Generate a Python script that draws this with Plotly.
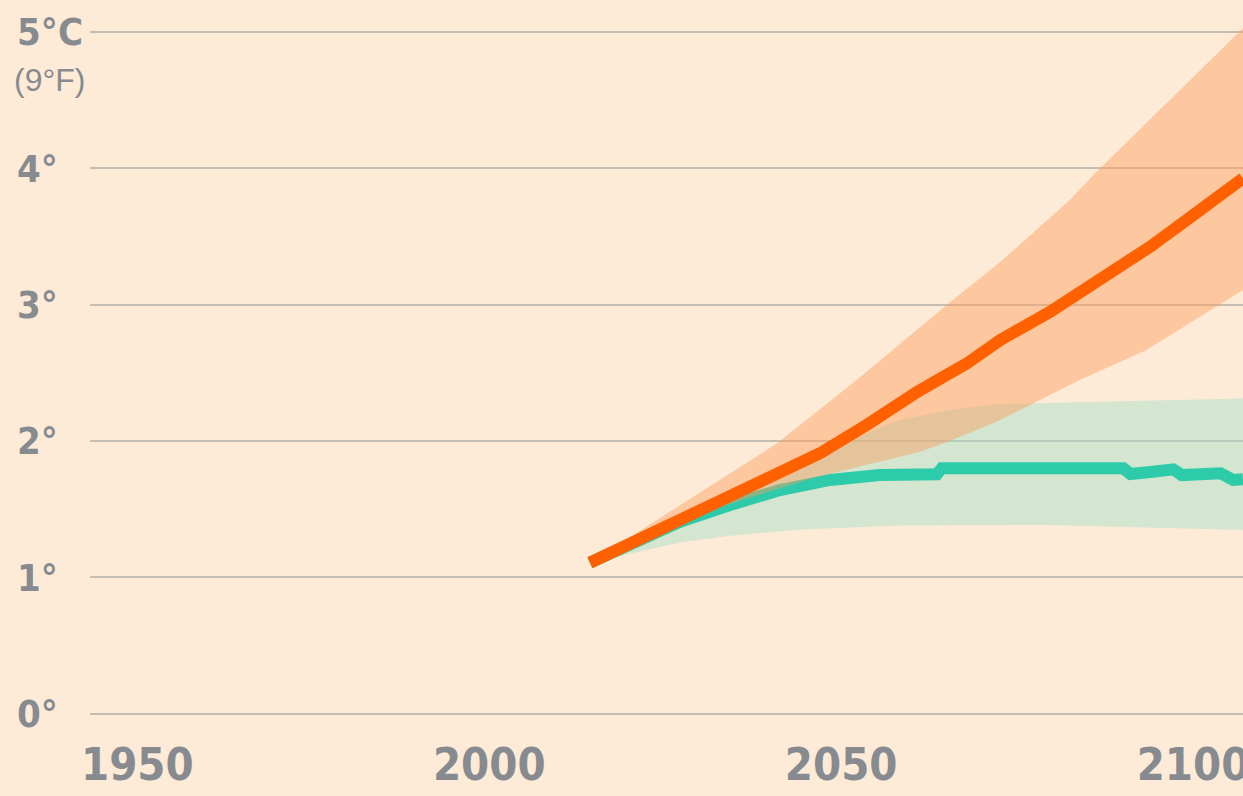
import plotly.graph_objects as go

# ---- data ----
x_ticks = [1950, 2000, 2050, 2100]
x_tick_labels = ["1950", "2000", "2050", "2100"]
y_ticks = [0, 1, 2, 3, 4, 5]
y_tick_labels = ["0°", "1°", "2°", "3°", "4°", "5°C"]
f_note = "(9°F)"

# high-emissions path (orange)
high_years = [2014.3, 2020.0, 2027.1, 2034.2, 2041.3, 2047.0, 2053.6, 2060.8,
              2067.9, 2072.6, 2079.7, 2086.8, 2093.9, 2101.0, 2107.1]
high_temp = [1.107, 1.249, 1.420, 1.591, 1.763, 1.910, 2.117, 2.360,
             2.570, 2.741, 2.948, 3.180, 3.425, 3.694, 3.927]
high_up_years = [2014.3, 2027.1, 2032.8, 2040.9, 2052.2, 2065.0, 2072.6, 2082.5, 2086.3, 2107.1]
high_up = [1.107, 1.530, 1.714, 1.983, 2.447, 2.997, 3.313, 3.768, 3.976, 5.028]
high_lo_years = [2014.3, 2033.2, 2046.0, 2061.2, 2065.0, 2072.6, 2083.9, 2093.4, 2107.1]
high_lo = [1.107, 1.523, 1.729, 1.921, 1.990, 2.154, 2.447, 2.667, 3.108]

# low-emissions path (green)
low_years = [2014.3, 2021.4, 2027.1, 2034.2, 2041.3, 2048.4, 2055.5, 2063.6, 2064.3,
             2090.1, 2091.1, 2094.3, 2097.2, 2098.4, 2103.9, 2105.7, 2107.1]
low_temp = [1.107, 1.274, 1.408, 1.530, 1.640, 1.714, 1.751, 1.756, 1.800,
            1.800, 1.758, 1.775, 1.792, 1.750, 1.763, 1.714, 1.719]
low_up_years = [2014.3, 2030.0, 2041.3, 2051.2, 2058.3, 2065.4, 2072.6, 2086.8, 2107.1]
low_up = [1.107, 1.479, 1.729, 2.007, 2.154, 2.227, 2.271, 2.286, 2.312]
low_lo_years = [2014.3, 2021.4, 2027.1, 2034.2, 2044.2, 2058.3, 2079.7, 2107.1]
low_lo = [1.107, 1.190, 1.255, 1.305, 1.350, 1.380, 1.384, 1.347]

BG = "#FDEBD8"
GRAY = "#878B8F"
GRID = "#C6BDB2"
ORANGE = "#FF6100"
TEAL = "#2ECBAB"
COND = "DejaVu Sans Condensed, Liberation Sans Narrow, Roboto Condensed, Roboto, sans-serif"

fig = go.Figure()

# green band
fig.add_trace(go.Scatter(x=low_up_years + low_lo_years[::-1], y=low_up + low_lo[::-1],
                         fill="toself", fillcolor="rgba(162,222,200,0.45)",
                         line=dict(width=0), mode="lines", hoverinfo="skip", showlegend=False))
# green line
fig.add_trace(go.Scatter(x=low_years, y=low_temp, mode="lines",
                         line=dict(color=TEAL, width=12), hoverinfo="skip", showlegend=False))
# orange band
fig.add_trace(go.Scatter(x=high_up_years + high_lo_years[::-1], y=high_up + high_lo[::-1],
                         fill="toself", fillcolor="rgba(253,155,92,0.45)",
                         line=dict(width=0), mode="lines", hoverinfo="skip", showlegend=False))
# orange line
fig.add_trace(go.Scatter(x=high_years, y=high_temp, mode="lines",
                         line=dict(color=ORANGE, width=12), hoverinfo="skip", showlegend=False))

fig.add_annotation(text=f_note, xref="paper", yref="y", x=12 / 1243, y=5,
                   xanchor="left", yanchor="middle", yshift=-48, showarrow=False,
                   font=dict(family="Liberation Sans, Arial, sans-serif", size=32, color=GRAY))

fig.update_layout(
    width=1243, height=796,
    margin=dict(l=0, r=0, t=0, b=69, autoexpand=False),
    paper_bgcolor=BG, plot_bgcolor=BG,
    xaxis=dict(domain=[90 / 1243, 1], range=[1943.27, 2107.1],
               tickvals=x_ticks, ticktext=x_tick_labels, automargin=False,
               showgrid=False, zeroline=False, showline=False, ticks="",
               ticklabeloverflow="allow",
               tickfont=dict(family=COND, size=45, color=GRAY, weight="bold"),
               ticklabelstandoff=7),
    yaxis=dict(range=[-0.098, 5.235], tickvals=y_ticks, ticktext=y_tick_labels,
               anchor="free", position=16 / 1243, side="right", automargin=False,
               showgrid=True, gridcolor=GRID, gridwidth=2,
               zeroline=False, showline=False, ticks="",
               tickfont=dict(family=COND, size=38, color=GRAY, weight="bold")),
)

fig.write_html("out.html", config={"displayModeBar": False},
               post_script="document.body.style.margin='0px';document.body.style.overflow='hidden';")
